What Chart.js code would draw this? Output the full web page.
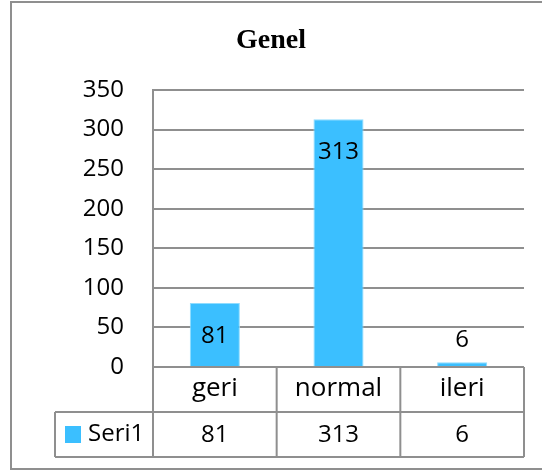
<!DOCTYPE html>
<html><head><meta charset="utf-8">
<script src="https://cdn.jsdelivr.net/npm/chart.js@4/dist/chart.umd.min.js"></script>
<style>html,body{margin:0;padding:0;background:#fff}#wrap{width:542px;height:472px;position:relative}</style>
</head><body><div id="wrap"><canvas id="c" width="542" height="472"></canvas></div>
<script>
const chartTitle = 'Genel';
const categories = ['geri', 'normal', 'ileri'];
const seriesName = 'Seri1';
const values = [81, 313, 6];
const yMin = 0, yMax = 350, yStep = 50;

const FONT = '"Open Sans", "Noto Sans", sans-serif';
const GRID = '#8f8f8f';
const BAR = '#3bbfff';

const framePlugin = {
  id: 'frame',
  beforeDraw(chart) {
    const ctx = chart.ctx;
    ctx.save();
    ctx.fillStyle = '#fff';
    ctx.fillRect(0, 0, chart.width, chart.height);
    ctx.strokeStyle = GRID;
    ctx.lineWidth = 2;
    ctx.strokeRect(11, 2, 560, 467);
    ctx.fillStyle = '#000';
    ctx.font = 'bold 28px "Liberation Serif", "Times New Roman", serif';
    ctx.textAlign = 'center';
    ctx.textBaseline = 'middle';
    ctx.fillText(chartTitle, 271, 41);
    ctx.restore();
  }
};

const labelPlugin = {
  id: 'barLabels',
  afterDatasetsDraw(chart) {
    const ctx = chart.ctx;
    const meta = chart.getDatasetMeta(0);
    ctx.save();
    ctx.fillStyle = '#000';
    ctx.font = '24px ' + FONT;
    ctx.textAlign = 'center';
    ctx.textBaseline = 'middle';
    meta.data.forEach((el, i) => {
      const h = el.base - el.y;
      const y = h > 45 ? el.y + 33 : el.y - 22;
      ctx.fillText(String(values[i]), el.x, y);
    });
    ctx.restore();
  }
};

const tablePlugin = {
  id: 'dataTable',
  afterDraw(chart) {
    const ctx = chart.ctx;
    const xs = chart.scales.x;
    const area = chart.chartArea;
    const top = area.bottom, mid = top + 45, bot = top + 90;
    const legendLeft = 55;
    const bounds = [area.left];
    for (let i = 0; i < categories.length - 1; i++) {
      bounds.push((xs.getPixelForValue(i) + xs.getPixelForValue(i + 1)) / 2);
    }
    bounds.push(area.right);
    ctx.save();
    ctx.strokeStyle = GRID;
    ctx.lineWidth = 2;
    ctx.beginPath();
    ctx.moveTo(area.left, top); ctx.lineTo(area.right, top);
    ctx.moveTo(legendLeft, mid); ctx.lineTo(area.right, mid);
    ctx.moveTo(legendLeft, bot); ctx.lineTo(area.right, bot);
    bounds.forEach(b => { ctx.moveTo(b, top); ctx.lineTo(b, bot); });
    ctx.moveTo(legendLeft, mid); ctx.lineTo(legendLeft, bot);
    ctx.stroke();

    ctx.fillStyle = '#000';
    ctx.textAlign = 'center';
    ctx.textBaseline = 'middle';
    categories.forEach((c, i) => {
      const cx = xs.getPixelForValue(i);
      ctx.font = '26px ' + FONT;
      ctx.fillText(c, cx, top + 22);
      ctx.font = '24px ' + FONT;
      ctx.fillText(String(values[i]), cx, mid + 23);
    });
    ctx.fillStyle = BAR;
    ctx.fillRect(legendLeft + 10, mid + 14, 16, 17);
    ctx.fillStyle = '#000';
    ctx.textAlign = 'left';
    ctx.font = '24px ' + FONT;
    ctx.fillText(seriesName, legendLeft + 33, mid + 22);
    ctx.restore();
  }
};

new Chart(document.getElementById('c'), {
  type: 'bar',
  data: {
    labels: categories,
    datasets: [{
      label: seriesName,
      data: values,
      backgroundColor: BAR,
      borderColor: '#8fdcff',
      borderWidth: 1,
      categoryPercentage: 1,
      barPercentage: 0.405
    }]
  },
  options: {
    responsive: false,
    animation: false,
    devicePixelRatio: 1,
    layout: { padding: { top: 90, bottom: 105, left: 0, right: 18 } },
    plugins: { legend: { display: false }, title: { display: false }, tooltip: { enabled: false } },
    scales: {
      x: { display: false },
      y: {
        min: yMin, max: yMax,
        afterFit(s) { s.width = 153; },
        ticks: { stepSize: yStep, color: '#000', padding: 29, font: { family: FONT, size: 24 } },
        grid: { color: GRID, lineWidth: 2, drawTicks: false },
        border: { display: true, color: GRID, width: 2 }
      }
    }
  },
  plugins: [framePlugin, labelPlugin, tablePlugin]
});
</script>
</body></html>
